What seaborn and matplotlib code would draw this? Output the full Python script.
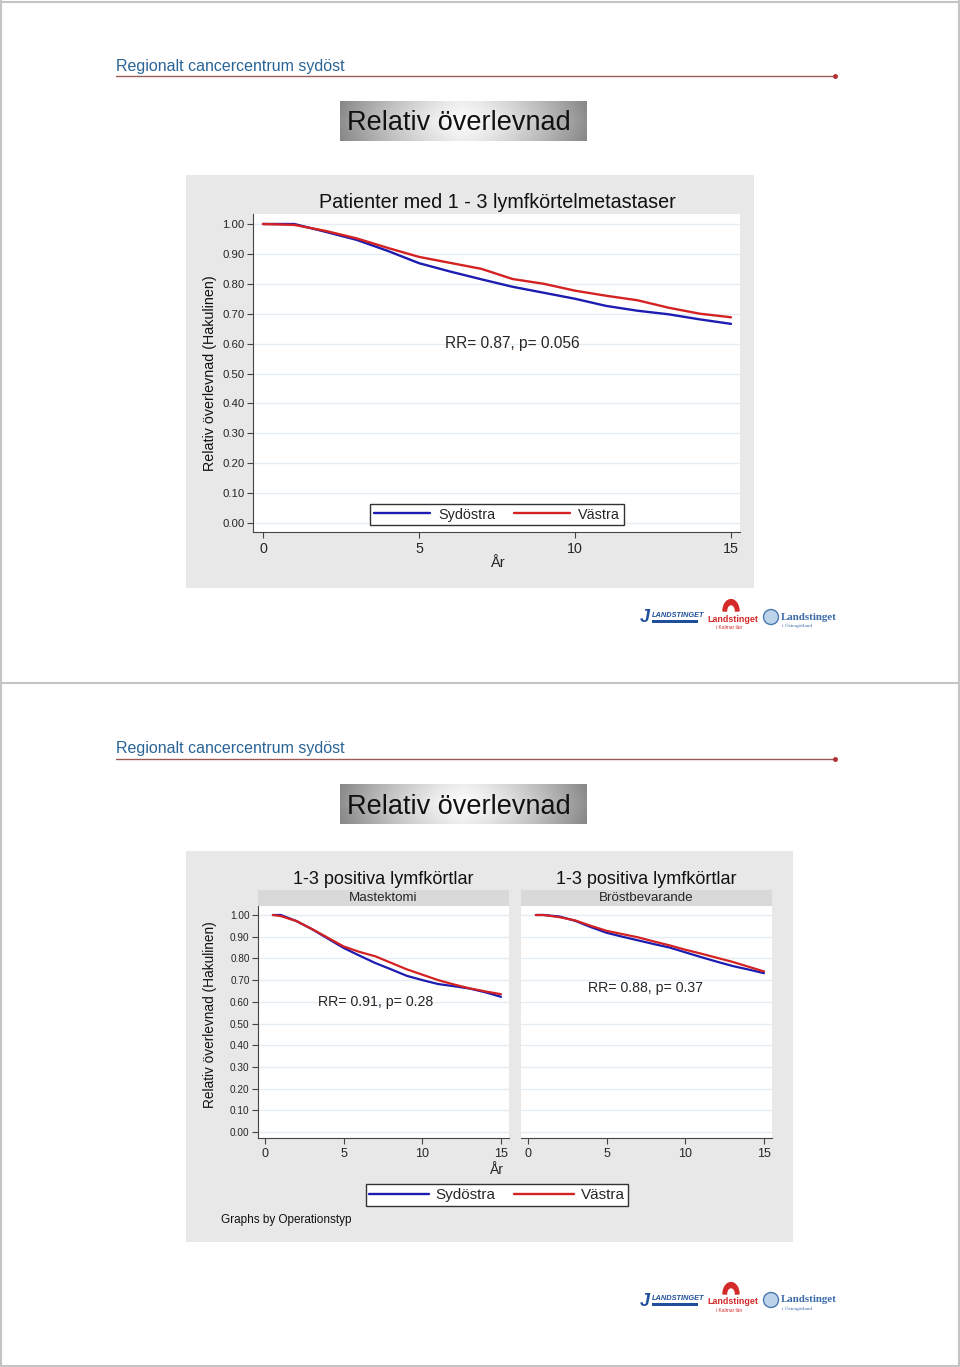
import numpy as np
import pandas as pd
import matplotlib
matplotlib.use("Agg")
import matplotlib.pyplot as plt
from matplotlib.patches import Rectangle, Ellipse, Wedge
from matplotlib.lines import Line2D
import seaborn as sns

# ---- data ----
years1 = list(range(0, 16))
syd_alla = [1.00, 1.00, 0.974, 0.947, 0.910, 0.869, 0.841, 0.815, 0.790, 0.770, 0.750, 0.726, 0.710, 0.698, 0.681, 0.666]
vas_alla = [1.00, 0.997, 0.977, 0.952, 0.920, 0.890, 0.870, 0.850, 0.816, 0.800, 0.777, 0.760, 0.745, 0.720, 0.700, 0.688]

years2 = [0.5] + list(range(1, 16))
syd_mast = [1.00, 1.00, 0.972, 0.934, 0.891, 0.848, 0.813, 0.779, 0.750, 0.720, 0.700, 0.682, 0.672, 0.661, 0.644, 0.623]
vas_mast = [1.00, 0.995, 0.972, 0.935, 0.895, 0.855, 0.830, 0.810, 0.780, 0.750, 0.725, 0.700, 0.680, 0.662, 0.648, 0.635]
syd_bros = [1.00, 1.00, 0.993, 0.973, 0.944, 0.918, 0.900, 0.883, 0.866, 0.850, 0.828, 0.806, 0.785, 0.765, 0.749, 0.732]
vas_bros = [1.00, 1.00, 0.990, 0.975, 0.950, 0.927, 0.912, 0.897, 0.878, 0.860, 0.840, 0.822, 0.803, 0.784, 0.762, 0.740]

regions = ["Sydöstra", "Västra"]
yticks = [0.0, 0.1, 0.2, 0.3, 0.4, 0.5, 0.6, 0.7, 0.8, 0.9, 1.0]
xticks = [0, 5, 10, 15]
pal = {"Sydöstra": "#1c1cb0", "Västra": "#d42222"}


def long_df(x, a, b):
    return pd.DataFrame({"År": list(x) * 2, "rs": a + b,
                         "Region": [regions[0]] * len(a) + [regions[1]] * len(b)})


sns.set_style("white")
plt.rcParams['font.family'] = ['Liberation Sans', 'DejaVu Sans']

W, H = 960, 1367
fig = plt.figure(figsize=(W / 100, H / 100), dpi=100)


def fx(x):
    return x / W


def fy(y):
    return 1 - y / H


def box(x0, y0, x1, y1):
    return [fx(x0), fy(y1), fx(x1) - fx(x0), fy(y0) - fy(y1)]


def rect(x0, y0, x1, y1, **kw):
    kw.setdefault("zorder", -10)
    fig.add_artist(Rectangle((fx(x0), fy(y1)), fx(x1) - fx(x0), fy(y0) - fy(y1),
                             transform=fig.transFigure, **kw))


def hline(x0, x1, y, **kw):
    fig.add_artist(Line2D([fx(x0), fx(x1)], [fy(y), fy(y)], transform=fig.transFigure, **kw))


def vline(x, y0, y1, **kw):
    fig.add_artist(Line2D([fx(x), fx(x)], [fy(y0), fy(y1)], transform=fig.transFigure, **kw))


# page borders
border = "#c4c4c4"
hline(0, 960, 1.5, color=border, lw=1.5)
hline(0, 960, 683, color=border, lw=1.5)
hline(0, 960, 1365.5, color=border, lw=1.5)
vline(1, 0, 1367, color=border, lw=1.5)
vline(958.5, 0, 1367, color=border, lw=1.5)


def header(off):
    fig.text(fx(116), fy(66 + off), "Regionalt cancercentrum sydöst", fontsize=11.5,
             color="#2a6496", ha="left", va="center")
    hline(116, 835, 75.5 + off, color="#9a5a55", lw=1)
    fig.add_artist(Line2D([fx(835)], [fy(75.5 + off)], marker="o", ms=2.5,
                          color="#b03030", transform=fig.transFigure))
    # grey gradient title box
    tax = fig.add_axes(box(340, 101 + off, 587, 141 + off))
    t = np.linspace(0, 1, 200)
    g = 0.55 + 0.42 * (1 - np.abs(2 * t - 1) ** 1.4)
    v = np.linspace(0, 1, 40)[:, None]
    img = g[None, :] * (0.96 + 0.06 * (1 - np.abs(2 * v - 1)))
    tax.imshow(np.clip(img, 0, 1), cmap="gray", vmin=0, vmax=1, aspect="auto",
               extent=[0, 1, 0, 1])
    tax.set_axis_off()
    fig.text(fx(459), fy(123.5 + off), "Relativ överlevnad", fontsize=19.5,
             color="#111111", ha="center", va="center")


def logos(off):
    y = 618 + off
    fig.text(fx(640), fy(y), "J", fontsize=13, fontweight="bold", style="italic",
             color="#1f4f9a", ha="left", va="center")
    fig.text(fx(652), fy(y - 2), "LANDSTINGET", fontsize=5.3, fontweight="bold",
             style="italic", color="#1f4f9a", ha="left", va="center")
    rect(652, y + 2, 698, y + 5, color="#1f4f9a", lw=0, zorder=2)
    fig.add_artist(Wedge((fx(731), fy(y - 7)), fx(8), 0, 180, width=fx(3.5),
                         color="#d42a2a", transform=fig.transFigure))
    fig.text(fx(707), fy(y + 1), "Landstinget", fontsize=6.4, fontweight="bold",
             color="#d42a2a", ha="left", va="center")
    fig.text(fx(716), fy(y + 9), "i Kalmar län", fontsize=3.5, color="#d42a2a",
             ha="left", va="center")
    fig.add_artist(Ellipse((fx(771), fy(y - 1)), fx(15), (fy(0) - fy(15)),
                           facecolor="#bcd3ea", edgecolor="#4a78b0", lw=1,
                           transform=fig.transFigure))
    fig.text(fx(781), fy(y - 1), "Landstinget", fontsize=7.8, fontweight="bold",
             family="Liberation Serif", color="#3a6aa8", ha="left", va="center")
    fig.text(fx(782), fy(y + 8), "i Östergötland", fontsize=3.8,
             family="Liberation Serif", color="#3a6aa8", ha="left", va="center")


def style_axes(ax, ylims, xlims, ylab_fs, xlab_fs, show_y=True):
    ax.set_facecolor("white")
    ax.set_xlim(*xlims)
    ax.set_ylim(*ylims)
    ax.set_yticks(yticks)
    ax.set_xticks(xticks)
    ax.yaxis.grid(True, color="#e6edf2", lw=1)
    ax.xaxis.grid(False)
    for s in ["top", "right"]:
        ax.spines[s].set_visible(False)
    ax.spines["bottom"].set_color("#444444")
    ax.spines["left"].set_color("#444444")
    ax.spines["left"].set_visible(show_y)
    ax.tick_params(axis="x", direction="out", length=4, width=0.8, color="#444444",
                   labelsize=xlab_fs, pad=3, bottom=True)
    if show_y:
        ax.set_yticklabels([f"{v:.2f}" for v in yticks])
        ax.tick_params(axis="y", direction="out", length=4, width=0.8, color="#444444",
                       labelsize=ylab_fs, pad=2, left=True)
    else:
        ax.tick_params(axis="y", left=False, labelleft=False)
    ax.set_xlabel("")
    ax.set_ylabel("")


# ================= page 1 =================
header(0)
rect(186, 175, 754, 588, color="#e8e8e8", lw=0)
ax1 = fig.add_axes(box(253, 214, 740, 532))
sns.lineplot(data=long_df(years1, syd_alla, vas_alla), x="År", y="rs", hue="Region",
             palette=pal, ax=ax1, legend=False, linewidth=1.7)
style_axes(ax1, (-9 / 299, 1 + 10 / 299), (-10 / 31.2, 15 + 9 / 31.2), 8.2, 10.3)
fig.text(fx(497), fy(203), "Patienter med 1 - 3 lymfkörtelmetastaser", fontsize=14.2,
         ha="center", va="center", color="#111111")
fig.text(fx(210), fy(373), "Relativ överlevnad (Hakulinen)", fontsize=10.3,
         rotation=90, ha="center", va="center", color="#111111")
fig.text(fx(497), fy(563), "År", fontsize=10.5, ha="center", va="center")
ax1.text(8.0, 0.6, "RR= 0.87, p= 0.056", fontsize=11.2, ha="center", va="center")

handles = [Line2D([], [], color=pal[r], lw=1.7) for r in regions]
fig.legend(handles, regions, loc="center", bbox_to_anchor=(fx(497), fy(514.5)),
           ncol=2, fontsize=10.4, frameon=True, fancybox=False, edgecolor="#333333",
           framealpha=1, handlelength=3.9, handletextpad=0.55, columnspacing=1.3,
           borderpad=0.25, borderaxespad=0)

logos(0)

# ================= page 2 =================
off = 683
header(off)
rect(186, 851, 793, 1242, color="#e8e8e8", lw=0)

ylims2 = (-6 / 217, 1 + 9 / 217)
xlims2 = (-7 / 15.73, 15 + 8 / 15.73)
panels = [
    (258, 509, "Mastektomi", syd_mast, vas_mast, True, (7.0, 0.6), "RR= 0.91, p= 0.28"),
    (521, 772, "Bröstbevarande", syd_bros, vas_bros, False, (7.5, 0.665), "RR= 0.88, p= 0.37"),
]
for x0, x1, strip, a, b, show_y, pos, rr in panels:
    ax = fig.add_axes(box(x0, 906, x1, 1138))
    sns.lineplot(data=long_df(years2, a, b), x="År", y="rs", hue="Region",
                 palette=pal, ax=ax, legend=False, linewidth=1.6)
    style_axes(ax, ylims2, xlims2, 7.2, 9, show_y=show_y)
    ax.text(pos[0], pos[1], rr, fontsize=10.2, ha="center", va="center")
    rect(x0, 890, x1, 906, color="#d9d9d9", lw=0)
    fig.text(fx((x0 + x1) / 2), fy(898), strip, fontsize=9.6, ha="center", va="center")
    fig.text(fx((x0 + x1) / 2), fy(880), "1-3 positiva lymfkörtlar", fontsize=13,
             ha="center", va="center", color="#111111")

fig.text(fx(210), fy(1015), "Relativ överlevnad (Hakulinen)", fontsize=9.8,
         rotation=90, ha="center", va="center", color="#111111")
fig.text(fx(497), fy(1170), "År", fontsize=10, ha="center", va="center")
fig.legend(handles, regions, loc="center", bbox_to_anchor=(fx(497), fy(1195)),
           ncol=2, fontsize=11, frameon=True, fancybox=False, edgecolor="#333333",
           framealpha=1, handlelength=3.9, handletextpad=0.45, columnspacing=1.2,
           borderpad=0.25, borderaxespad=0)
fig.text(fx(221), fy(1220), "Graphs by Operationstyp", fontsize=8.5, ha="left",
         va="center", color="#111111")

logos(off)

fig.savefig("out.png", dpi=100, facecolor="white")
